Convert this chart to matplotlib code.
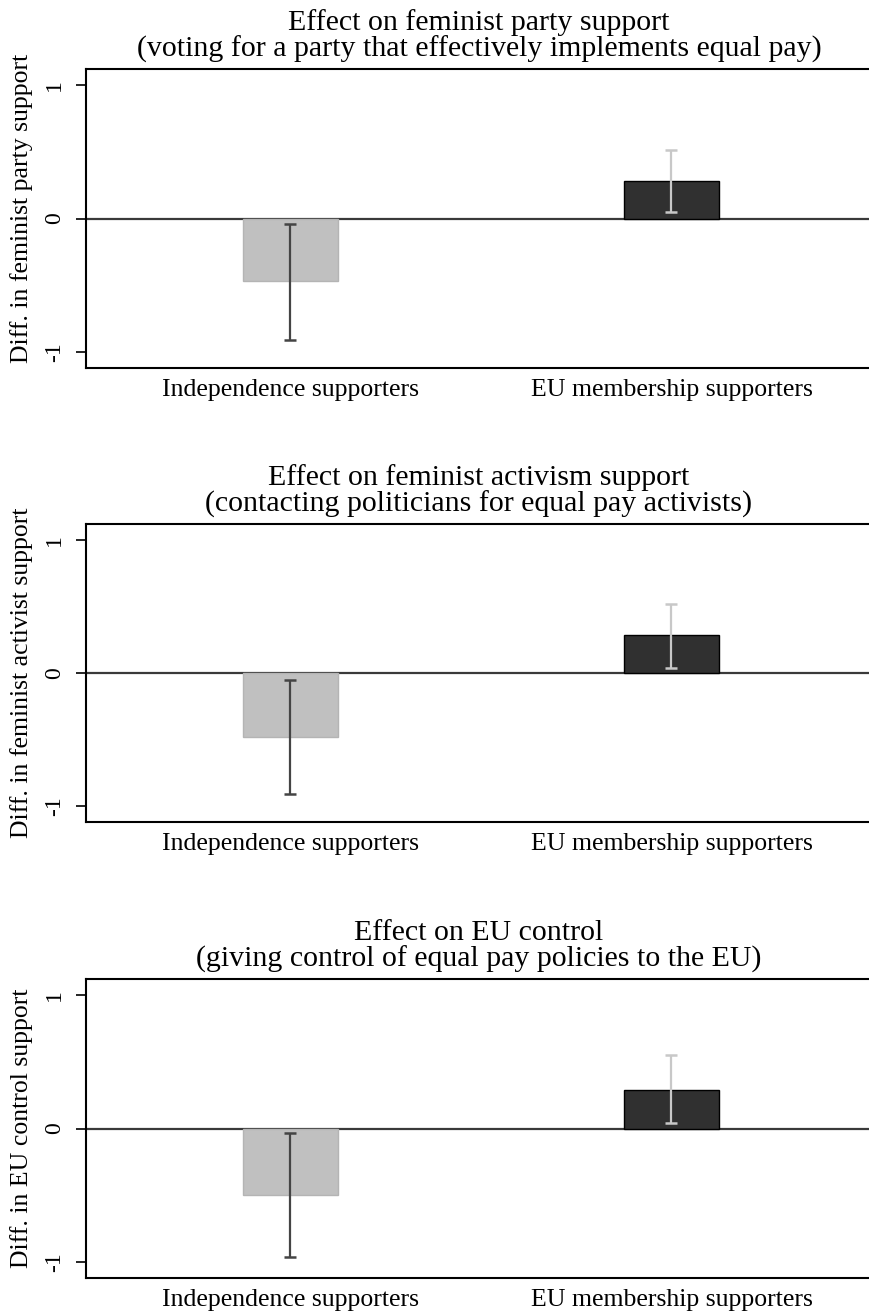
import numpy as np
import matplotlib
matplotlib.use("Agg")
import matplotlib.pyplot as plt

plt.rcParams['font.family'] = ['Liberation Serif', 'DejaVu Serif']

# data
groups = ["Independence supporters", "EU membership supporters"]
titles = [
    "Effect on feminist party support\n(voting for a party that effectively implements equal pay)",
    "Effect on feminist activism support\n(contacting politicians for equal pay activists)",
    "Effect on EU control\n(giving control of equal pay policies to the EU)",
]
ylabels = [
    "Diff. in feminist party support",
    "Diff. in feminist activist support",
    "Diff. in EU control support",
]
party_mean = [-0.47, 0.28]
party_lo = [-0.91, 0.045]
party_hi = [-0.04, 0.51]
activism_mean = [-0.48, 0.285]
activism_lo = [-0.91, 0.04]
activism_hi = [-0.05, 0.52]
eucontrol_mean = [-0.50, 0.29]
eucontrol_lo = [-0.96, 0.04]
eucontrol_hi = [-0.03, 0.55]

means = [party_mean, activism_mean, eucontrol_mean]
los = [party_lo, activism_lo, eucontrol_lo]
his = [party_hi, activism_hi, eucontrol_hi]

bar_colors = ["#c0c0c0", "#303030"]
edge_colors = ["#b4b4b4", "#000000"]
err_colors = ["#444444", "#c8c8c8"]

W, H = 870, 1312
fig = plt.figure(figsize=(W / 100, H / 100), dpi=100)

# axes boxes in pixels: (top, bottom), and where the y label sits
boxes = [(69, 368), (524, 822), (979, 1278)]
label_y = [0.533, 0.5, 0.5]
left, right = 86, 872

x = np.arange(len(groups))
for i, (top, bot) in enumerate(boxes):
    ax = fig.add_axes([left / W, 1 - bot / H, (right - left) / W, (bot - top) / H])
    ax.axhline(0, color="#3a3a3a", lw=1.6, zorder=1)
    for j in range(len(groups)):
        ax.bar(x[j], means[i][j], width=0.25, color=bar_colors[j],
               edgecolor=edge_colors[j], linewidth=1.0, zorder=2)
        m = means[i][j]
        ax.errorbar(x[j], m, yerr=[[m - los[i][j]], [his[i][j] - m]],
                    fmt="none", ecolor=err_colors[j], elinewidth=1.6,
                    capsize=4, capthick=1.8, zorder=3)
    ax.set_xlim(-0.536, 1.526)
    ax.set_ylim(-1.12, 1.12)
    ax.set_yticks([-1, 0, 1])
    ax.set_yticklabels(["-1", "0", "1"], rotation=90, va="center", fontsize=17)
    ax.set_xticks(x)
    ax.set_xticklabels(groups, fontsize=18.5)
    ax.tick_params(axis="x", length=0, pad=8)
    ax.tick_params(axis="y", length=7, width=1.2, pad=8)
    ax.set_ylabel(ylabels[i], fontsize=18.5)
    ax.yaxis.set_label_coords((33 - left) / (right - left), label_y[i])
    ax.set_title(titles[i], fontsize=21.5, pad=9, linespacing=1.0)
    for s in ["left", "top", "bottom"]:
        ax.spines[s].set_linewidth(1.5)
    ax.spines["right"].set_visible(False)

fig.savefig("out.png", dpi=100, facecolor="white")
